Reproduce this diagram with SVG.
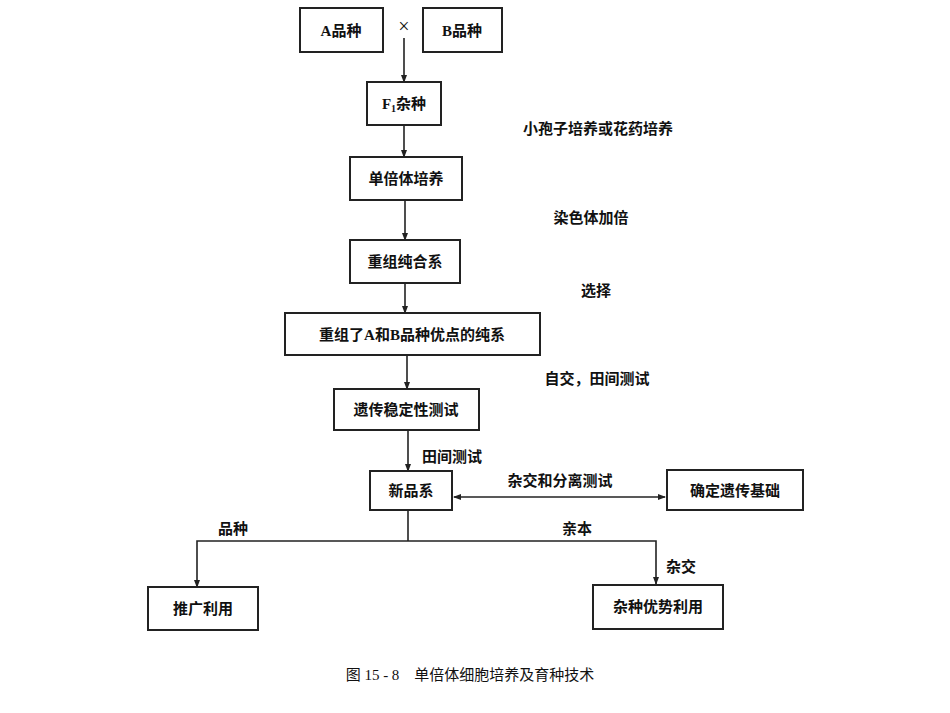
<svg xmlns="http://www.w3.org/2000/svg" width="950" height="713" viewBox="0 0 950 713">
<style>
rect{fill:#fff;stroke:#222;stroke-width:2}
text{font-family:"Liberation Serif","Noto Sans CJK SC",serif;font-size:15px;fill:#111;text-anchor:middle;font-weight:bold}
.c line,.c polyline{stroke:#222;stroke-width:1.6;fill:none}
</style>
<defs><marker id="a" markerWidth="8" markerHeight="8" refX="7" refY="4" orient="auto-start-reverse" markerUnits="userSpaceOnUse"><path d="M0,1 L8,4 L0,7 Z" fill="#222"/></marker></defs>
<rect x="0" y="0" width="950" height="713" style="stroke:none"/>
<g class="c">
<line x1="404" y1="38" x2="404" y2="82" marker-end="url(#a)"/>
<line x1="404" y1="125" x2="404" y2="157" marker-end="url(#a)"/>
<line x1="405" y1="200" x2="405" y2="240" marker-end="url(#a)"/>
<line x1="405" y1="283" x2="405" y2="313" marker-end="url(#a)"/>
<line x1="407" y1="355" x2="407" y2="389" marker-end="url(#a)"/>
<line x1="408" y1="430" x2="408" y2="471" marker-end="url(#a)"/>
<line x1="454" y1="497" x2="665" y2="497" marker-start="url(#a)" marker-end="url(#a)"/>
<polyline points="408,510 408,541"/>
<polyline points="408,541 197,541 197,587" marker-end="url(#a)"/>
<polyline points="408,541 656,541 656,584" marker-end="url(#a)"/>
</g>
<g id="nA"><rect x="300" y="8" width="83" height="44"/><text x="341" y="36">A品种</text></g>
<text x="404" y="33" style="font-size:20px;font-weight:normal">×</text>
<g id="nB"><rect x="423" y="8" width="79" height="44"/><text x="462" y="36">B品种</text></g>
<g id="nF1"><rect x="367" y="82" width="74" height="43"/><text x="404" y="109">F<tspan font-size="10" dy="3">1</tspan><tspan dy="-3">杂种</tspan></text></g>
<g id="nHap"><rect x="350" y="157" width="112" height="43"/><text x="406" y="184">单倍体培养</text></g>
<g id="nRec"><rect x="350" y="240" width="110" height="43"/><text x="405" y="267">重组纯合系</text></g>
<g id="nPure"><rect x="285" y="313" width="255" height="42"/><text x="412" y="340">重组了A和B品种优点的纯系</text></g>
<g id="nTest"><rect x="334" y="389" width="145" height="41"/><text x="406" y="415">遗传稳定性测试</text></g>
<g id="nNew"><rect x="370" y="471" width="82" height="39"/><text x="411" y="496">新品系</text></g>
<g id="nGen"><rect x="667" y="470" width="136" height="40"/><text x="735" y="496">确定遗传基础</text></g>
<g id="nPro"><rect x="148" y="587" width="110" height="43"/><text x="203" y="614">推广利用</text></g>
<g id="nHet"><rect x="593" y="585" width="130" height="44"/><text x="658" y="612">杂种优势利用</text></g>
<text x="598" y="134">小孢子培养或花药培养</text>
<text x="591" y="223">染色体加倍</text>
<text x="596" y="296">选择</text>
<text x="597" y="384">自交，田间测试</text>
<text x="452" y="462">田间测试</text>
<text x="560" y="486">杂交和分离测试</text>
<text x="233" y="534">品种</text>
<text x="577" y="534">亲本</text>
<text x="681" y="572">杂交</text>
<text x="470" y="680" style="font-weight:normal">图 15 - 8　单倍体细胞培养及育种技术</text>
</svg>
